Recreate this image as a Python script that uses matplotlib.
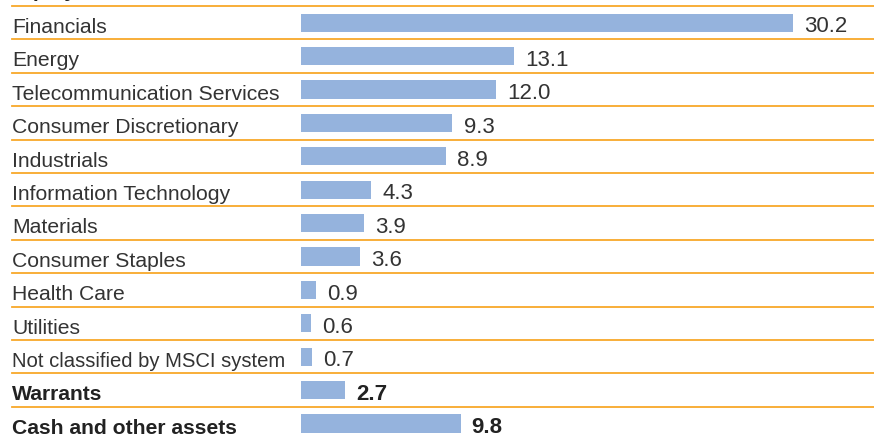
import matplotlib
matplotlib.use("Agg")
import matplotlib.pyplot as plt
import matplotlib.transforms as mtransforms

sectors = ["Financials", "Energy", "Telecommunication Services",
           "Consumer Discretionary", "Industrials", "Information Technology",
           "Materials", "Consumer Staples", "Health Care", "Utilities",
           "Not classified by MSCI system", "Warrants", "Cash and other assets"]
values = [30.2, 13.1, 12.0, 9.3, 8.9, 4.3, 3.9, 3.6, 0.9, 0.6, 0.7, 2.7, 9.8]
bold_rows = ["Warrants", "Cash and other assets"]

bar_color = "#95b3dd"
line_color = "#f8a82a"
text_color = "#333333"

plt.rcParams["font.family"] = ["Liberation Sans", "DejaVu Sans"]

W, H = 874, 437
fig = plt.figure(figsize=(W / 100, H / 100), dpi=100)
# axes start at the bar origin (px 301) and run to the right edge
ax = fig.add_axes([301 / W, 0, 1 - 301 / W, 1])
px_per_unit = 16.28
ax.set_xlim(0, (W - 301) / px_per_unit)
row_px = 33.4
top_px = 22.7
ax.set_ylim((H - top_px) / row_px, -top_px / row_px)
ax.axis("off")

y = list(range(len(sectors)))
ax.barh(y, values, height=0.54, color=bar_color, zorder=2)

trans = mtransforms.blended_transform_factory(fig.transFigure, ax.transData)
xmin_line = (12 - 301) / (W - 301)

for i, (name, v) in enumerate(zip(sectors, values)):
    is_bold = name in bold_rows
    fw = "bold" if is_bold else "normal"
    col = "#222222" if is_bold else text_color
    # the long label is set a bit tighter in the source
    fs = 14.6 if len(name) > 27 else 15.2
    ax.text(12 / W, i + 0.31, name, transform=trans, fontsize=fs,
            fontweight=fw, color=col, va="baseline", ha="left")
    ax.annotate(f"{v:.1f}", xy=(v, i + 0.29), xytext=(8, 0),
                textcoords="offset points", fontsize=16, fontweight=fw,
                color=col, va="baseline", ha="left")
    ax.axhline(i - 0.5, xmin=xmin_line, xmax=1, color=line_color, lw=1.3,
               clip_on=False, zorder=1)

# section title, cut off at the top edge as in the source
fig.text(12 / W, 1 + 3 / H, "Equity sectors", fontsize=15,
         fontweight="bold", color="#222222", va="baseline", ha="left")

fig.savefig("out.png", dpi=100)
